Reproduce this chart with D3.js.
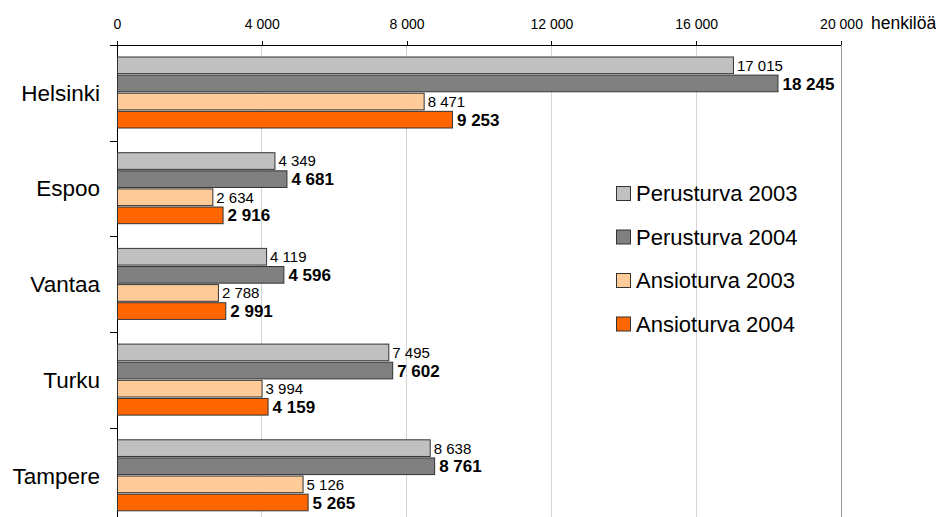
<!DOCTYPE html>
<html>
<head>
<meta charset="utf-8">
<script src="https://cdn.jsdelivr.net/npm/d3@7"></script>
<style>
  html, body { margin: 0; padding: 0; background: #fff; }
  svg { display: block; font-family: "Liberation Sans", Arial, sans-serif; }
</style>
</head>
<body>
<svg id="chart" width="936" height="517"></svg>
<script>
const cities = ["Helsinki", "Espoo", "Vantaa", "Turku", "Tampere"];
const seriesNames = ["Perusturva 2003", "Perusturva 2004", "Ansioturva 2003", "Ansioturva 2004"];
const perusturva2003 = [17015, 4349, 4119, 7495, 8638];
const perusturva2004 = [18245, 4681, 4596, 7602, 8761];
const ansioturva2003 = [8471, 2634, 2788, 3994, 5126];
const ansioturva2004 = [9253, 2916, 2991, 4159, 5265];
const seriesColors = ["#c0c0c0", "#808080", "#ffcc99", "#ff6600"];
const seriesBold = [false, true, false, true];
const xTicks = [0, 4000, 8000, 12000, 16000, 20000];
const unitLabel = "henkilöä";

const seriesValues = [perusturva2003, perusturva2004, ansioturva2003, ansioturva2004];

const svg = d3.select("#chart");
const x0 = 117, x1 = 841, yTop = 45, bandH = 95.7;

const x = d3.scaleLinear().domain([0, 20000]).range([x0, x1]);
const y = d3.scaleBand().domain(cities).range([yTop, yTop + bandH * cities.length]).padding(0);
const yInner = d3.scaleBand().domain(d3.range(seriesNames.length)).range([12, 83]).paddingInner(0.08);

const fmt = v => d3.format(",")(v).replace(/,/g, " ");

// gridlines
svg.append("g").selectAll("line")
  .data(xTicks.filter(t => t > 0))
  .join("line")
  .attr("x1", d => x(d)).attr("x2", d => x(d))
  .attr("y1", yTop).attr("y2", 517)
  .attr("stroke", d => d === 20000 ? "#999" : "#d4d4d4")
  .attr("stroke-width", 1)
  .attr("shape-rendering", "crispEdges");

// top axis
const xAxis = d3.axisTop(x).tickValues(xTicks).tickFormat(fmt).tickSizeInner(4).tickSizeOuter(0).tickPadding(12);
const gx = svg.append("g").attr("transform", `translate(0,${yTop})`).call(xAxis);
gx.select(".domain").remove();
gx.selectAll(".tick line").attr("stroke", "#000").attr("shape-rendering", "crispEdges");
gx.selectAll(".tick text").attr("font-size", 14).attr("font-family", "Liberation Sans, Arial, sans-serif").attr("fill", "#000");
svg.append("line").attr("x1", 110).attr("x2", x1).attr("y1", yTop).attr("y2", yTop)
  .attr("stroke", "#000").attr("shape-rendering", "crispEdges");

svg.append("text").attr("x", 871).attr("y", yTop - 16)
  .attr("font-size", 17.5).attr("fill", "#000").text(unitLabel);

// left axis
svg.append("line").attr("x1", x0).attr("x2", x0).attr("y1", yTop).attr("y2", 517)
  .attr("stroke", "#000").attr("shape-rendering", "crispEdges");
svg.append("g").selectAll("line")
  .data(cities.slice(1))
  .join("line")
  .attr("x1", 110).attr("x2", x0)
  .attr("y1", d => Math.round(y(d)) + 0.5).attr("y2", d => Math.round(y(d)) + 0.5)
  .attr("stroke", "#000");

svg.append("g").selectAll("text")
  .data(cities)
  .join("text")
  .attr("x", 100)
  .attr("y", d => y(d) + y.bandwidth() / 2)
  .attr("dy", "0.35em")
  .attr("text-anchor", "end")
  .attr("font-size", 22.5)
  .attr("fill", "#000")
  .text(d => d);

// bars
const groups = svg.append("g").selectAll("g")
  .data(cities)
  .join("g")
  .attr("transform", d => `translate(0,${y(d)})`);

groups.each(function(city, ci) {
  const g = d3.select(this);
  seriesValues.forEach((vals, si) => {
    const v = vals[ci];
    g.append("rect")
      .attr("x", x(0) + 0.5)
      .attr("y", yInner(si))
      .attr("width", x(v) - x(0))
      .attr("height", yInner.bandwidth())
      .attr("fill", seriesColors[si])
      .attr("stroke", "#333")
      .attr("stroke-width", 1);
    g.append("text")
      .attr("x", x(v) + (seriesBold[si] ? 5 : 4))
      .attr("y", yInner(si) + yInner.bandwidth() / 2)
      .attr("dy", "0.36em")
      .attr("font-size", seriesBold[si] ? 17 : 15)
      .attr("font-weight", seriesBold[si] ? "bold" : "normal")
      .attr("fill", "#000")
      .text(fmt(v));
  });
});

// legend
const legend = svg.append("g").selectAll("g")
  .data(seriesNames)
  .join("g")
  .attr("transform", (d, i) => `translate(616,${186 + i * 43.5})`);
legend.append("rect")
  .attr("x", 0.5).attr("y", 0.5)
  .attr("width", 14).attr("height", 14)
  .attr("fill", (d, i) => seriesColors[i])
  .attr("stroke", "#333");
legend.append("text")
  .attr("x", 20).attr("y", 7.5).attr("dy", "0.36em")
  .attr("font-size", 22).attr("fill", "#000")
  .text(d => d);
</script>
</body>
</html>
